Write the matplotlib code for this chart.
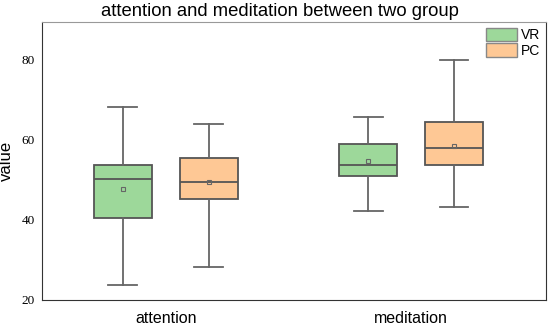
import matplotlib
matplotlib.use('Agg')
import matplotlib.pyplot as plt
from matplotlib.patches import Patch

# 数据
categories = ['attention', 'meditation']
groups = ['VR', 'PC']
colors = ['#9dd89a', '#fec895']

whislo = {'VR': [23.7, 42.2], 'PC': [28.3, 43.2]}
q1 = {'VR': [40.6, 50.9], 'PC': [45.3, 53.7]}
med = {'VR': [50.3, 53.7], 'PC': [49.6, 58.1]}
q3 = {'VR': [53.8, 59.1], 'PC': [55.6, 64.6]}
whishi = {'VR': [68.3, 65.8], 'PC': [63.9, 79.9]}
means = {'VR': [47.7, 54.8], 'PC': [49.5, 58.4]}

fig = plt.figure(figsize=(5.5, 3.26), dpi=100)
ax = fig.add_axes([42 / 550, 1 - 300 / 326, (546 - 42) / 550, (300 - 22) / 326])

offset = 0.175
width = 0.236
for gi, g in enumerate(groups):
    stats = []
    for ci in range(len(categories)):
        stats.append({'whislo': whislo[g][ci], 'q1': q1[g][ci], 'med': med[g][ci],
                      'q3': q3[g][ci], 'whishi': whishi[g][ci], 'mean': means[g][ci],
                      'fliers': []})
    pos = [ci + (offset if gi else -offset) for ci in range(len(categories))]
    ax.bxp(stats, positions=pos, widths=width, patch_artist=True, showmeans=True,
           capwidths=width * 0.5,
           boxprops=dict(facecolor=colors[gi], edgecolor='#555555', linewidth=1.3),
           medianprops=dict(color='#555555', linewidth=1.3),
           whiskerprops=dict(color='#666666', linewidth=1.3),
           capprops=dict(color='#666666', linewidth=1.3),
           meanprops=dict(marker='s', markersize=2.5, markerfacecolor='none',
                          markeredgecolor='#666666', markeredgewidth=0.8))

ax.set_xlim(-0.504, 1.55)
ax.set_ylim(20, 89.5)
ax.set_xticks(range(len(categories)))
ax.set_xticklabels(categories, fontsize=11.5, family='Liberation Sans')
ax.set_yticks([20, 40, 60, 80])
ax.set_yticklabels(['20', '40', '60', '80'], fontsize=9.5, family='Liberation Serif')
ax.tick_params(axis='y', length=0, pad=5)
ax.tick_params(axis='x', length=0, pad=8)
ax.set_ylabel('value', fontsize=12, family='Liberation Sans', labelpad=6)
fig.text(280 / 550, 1 - 11 / 326, 'attention and meditation between two group',
         fontsize=13.3, family='Liberation Sans', ha='center', va='center')

for s in ['left', 'bottom', 'right']:
    ax.spines[s].set_color('#333333')
ax.spines['top'].set_color('#999999')

handles = [Patch(facecolor=c, edgecolor='#888888', label=g) for g, c in zip(groups, colors)]
ax.legend(handles=handles, loc='upper right', frameon=False,
          prop={'family': 'Liberation Sans', 'size': 10},
          handlelength=2.2, handleheight=1.1, handletextpad=0.3,
          labelspacing=0.1, borderaxespad=0.3, borderpad=0.1)

plt.savefig('out.png', dpi=100)
plt.close()
